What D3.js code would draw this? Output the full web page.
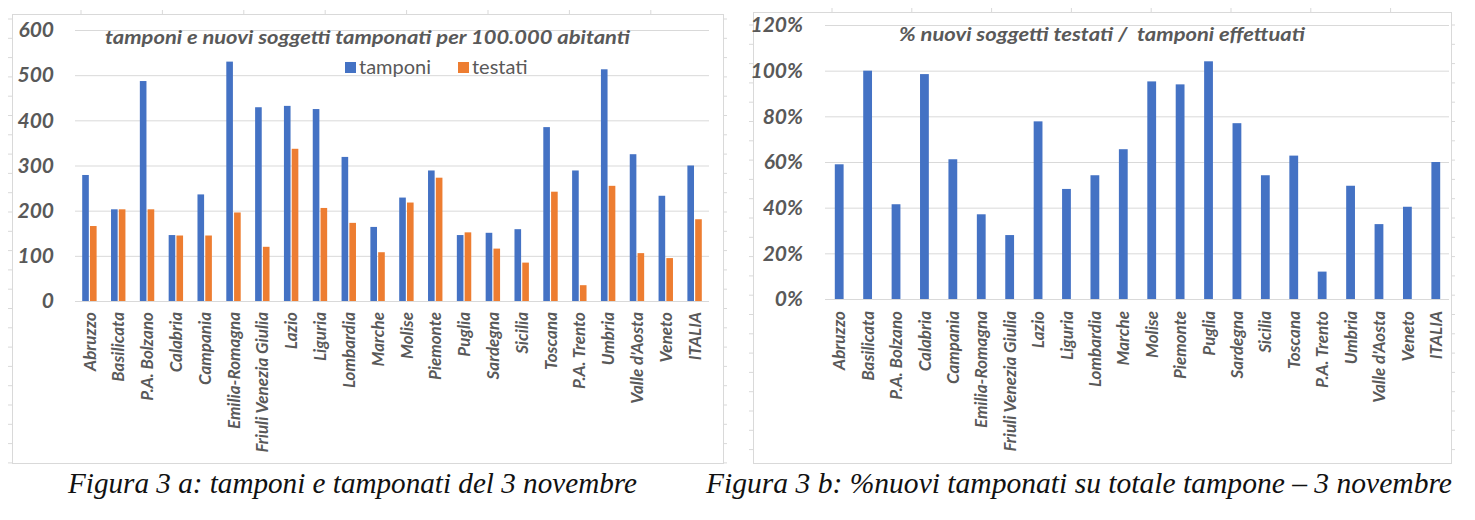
<!DOCTYPE html>
<html>
<head>
<meta charset="utf-8">
<script src="https://cdn.jsdelivr.net/npm/d3@7/dist/d3.min.js"></script>
<style>
  body { margin: 0; background: #fff; }
  text { fill: #595959; }
</style>
</head>
<body>
<svg id="chart" width="1475" height="520"></svg>
<script>
// data
var regioni = ["Abruzzo", "Basilicata", "P.A. Bolzano", "Calabria", "Campania", "Emilia-Romagna",
  "Friuli Venezia Giulia", "Lazio", "Liguria", "Lombardia", "Marche", "Molise", "Piemonte",
  "Puglia", "Sardegna", "Sicilia", "Toscana", "P.A. Trento", "Umbria", "Valle d'Aosta", "Veneto", "ITALIA"];
var tamponi = [279, 203, 487, 146, 236, 530, 429, 432, 425, 319, 164, 229, 289, 146, 151, 159, 385, 289, 513, 325, 233, 300];
var testati = [166, 203, 203, 145, 145, 196, 120, 337, 206, 173, 108, 218, 273, 152, 116, 85, 242, 35, 255, 106, 95, 181];
var percTestati = [0.59, 1.00, 0.415, 0.985, 0.612, 0.371, 0.28, 0.778, 0.482, 0.542, 0.656, 0.953, 0.94,
  1.041, 0.77, 0.542, 0.628, 0.12, 0.496, 0.328, 0.404, 0.60];
var serie = ["tamponi", "testati"];
var colori = ["#4472C4", "#ED7D31"];
var ticksA = [0, 100, 200, 300, 400, 500, 600];
var ticksB = [0, 0.2, 0.4, 0.6, 0.8, 1.0, 1.2];

var svg = d3.select("#chart");
var labelFont = "Lato, 'Open Sans', sans-serif";

// frames with the little ruler marks round them
function frame(x0, y0, x1, y1, topStep, topStart, sideStart) {
  var g = svg.append("g").attr("stroke", "#d9d9d9").attr("fill", "none");
  g.append("rect").attr("x", x0 + 0.5).attr("y", y0 + 0.5)
    .attr("width", x1 - x0).attr("height", y1 - y0);
  d3.range(topStart, x1, topStep).forEach(function (x) {
    g.append("line").attr("x1", x).attr("x2", x).attr("y1", y0 - 4).attr("y2", y0);
  });
  d3.range(sideStart, y1, 19.3).forEach(function (y) {
    g.append("line").attr("x1", x0 - 4).attr("x2", x0).attr("y1", y).attr("y2", y);
    g.append("line").attr("x1", x1).attr("x2", x1 + 4).attr("y1", y).attr("y2", y);
  });
}
frame(12, 14, 723, 463, 81.4, 81, 19);
frame(753, 12, 1451, 463, 79.8, 832, 25);

function boldItalic(sel, size) {
  sel.attr("font-family", labelFont).attr("font-weight", "bold").attr("font-style", "italic")
    .attr("font-size", size).attr("fill", "#595959");
}

// ---------- Figura 3a ----------
var xA = d3.scaleBand().domain(regioni).range([75, 709]).paddingInner(0.5).paddingOuter(0.25);
var xA1 = d3.scaleBand().domain(serie).range([0, xA.bandwidth()]).paddingInner(0.15);
var yA = d3.scaleLinear().domain([0, 600]).range([301, 30]);

var gA = svg.append("g");
gA.append("g").selectAll("line").data(ticksA).join("line")
  .attr("x1", 75).attr("x2", 709)
  .attr("y1", function (d) { return yA(d) + 0.5; }).attr("y2", function (d) { return yA(d) + 0.5; })
  .attr("stroke", "#d9d9d9").attr("stroke-width", 1);

var axA = d3.axisLeft(yA).tickValues(ticksA).tickSize(0).tickPadding(0);
gA.append("g").attr("transform", "translate(54,0)").call(axA)
  .call(function (g) { g.select(".domain").remove(); })
  .selectAll("text").call(boldItalic, 21);

var gruppi = gA.append("g").selectAll("g").data(regioni).join("g")
  .attr("transform", function (d) { return "translate(" + xA(d) + ",0)"; });
gruppi.selectAll("rect").data(function (d, i) {
  return [{ s: "tamponi", v: tamponi[i] }, { s: "testati", v: testati[i] }];
}).join("rect")
  .attr("x", function (d) { return xA1(d.s); })
  .attr("y", function (d) { return yA(d.v); })
  .attr("width", xA1.bandwidth())
  .attr("height", function (d) { return yA(0) - yA(d.v); })
  .attr("fill", function (d) { return colori[serie.indexOf(d.s)]; });

var axAx = d3.axisBottom(xA).tickSize(0).tickPadding(0);
gA.append("g").attr("transform", "translate(0,312)").call(axAx)
  .call(function (g) { g.select(".domain").remove(); })
  .selectAll("text")
  .attr("transform", "rotate(-90)")
  .attr("text-anchor", "end").attr("x", 0).attr("y", 0).attr("dy", "0.36em")
  .call(boldItalic, 17);

gA.append("text").attr("x", 105).attr("y", 44)
  .call(boldItalic, 19).attr("textLength", 525).attr("lengthAdjust", "spacingAndGlyphs")
  .text("tamponi e nuovi soggetti tamponati per 100.000 abitanti");

var leg = gA.append("g").selectAll("g").data(serie).join("g")
  .attr("transform", function (d, i) { return "translate(" + [345, 458][i] + ",62)"; });
leg.append("rect").attr("width", 11).attr("height", 11)
  .attr("fill", function (d, i) { return colori[i]; });
leg.append("text").attr("x", 14).attr("y", 12)
  .attr("font-family", labelFont).attr("font-size", 20).text(function (d) { return d; });

// ---------- Figura 3b ----------
var xB = d3.scaleBand().domain(regioni).range([825, 1450]).paddingInner(0.69).paddingOuter(0.345);
var yB = d3.scaleLinear().domain([0, 1.2]).range([299, 25]);

var gB = svg.append("g");
gB.append("g").selectAll("line").data(ticksB).join("line")
  .attr("x1", 825).attr("x2", 1449)
  .attr("y1", function (d) { return yB(d) + 0.5; }).attr("y2", function (d) { return yB(d) + 0.5; })
  .attr("stroke", "#d9d9d9").attr("stroke-width", 1);

var axB = d3.axisLeft(yB).tickValues(ticksB).tickSize(0).tickPadding(0).tickFormat(d3.format(".0%"));
gB.append("g").attr("transform", "translate(803,0)").call(axB)
  .call(function (g) { g.select(".domain").remove(); })
  .selectAll("text").call(boldItalic, 21);

gB.append("g").selectAll("rect").data(regioni).join("rect")
  .attr("x", function (d) { return xB(d); })
  .attr("y", function (d, i) { return yB(percTestati[i]); })
  .attr("width", xB.bandwidth())
  .attr("height", function (d, i) { return yB(0) - yB(percTestati[i]); })
  .attr("fill", colori[0]);

var axBx = d3.axisBottom(xB).tickSize(0).tickPadding(0);
gB.append("g").attr("transform", "translate(0,311)").call(axBx)
  .call(function (g) { g.select(".domain").remove(); })
  .selectAll("text")
  .attr("transform", "rotate(-90)")
  .attr("text-anchor", "end").attr("x", 0).attr("y", 0).attr("dy", "0.36em")
  .call(boldItalic, 17);

gB.append("text").attr("x", 899).attr("y", 41)
  .call(boldItalic, 19).attr("textLength", 406).attr("lengthAdjust", "spacingAndGlyphs")
  .attr("xml:space", "preserve")
  .text("% nuovi soggetti testati /  tamponi effettuati");

// captions under the two figures
var capFont = "'Liberation Serif', 'DejaVu Serif', serif";
svg.append("text").attr("x", 68).attr("y", 493)
  .attr("font-family", capFont).attr("font-style", "italic").attr("font-size", 30)
  .attr("textLength", 569).attr("lengthAdjust", "spacingAndGlyphs")
  .style("fill", "#111")
  .text("Figura 3 a: tamponi e tamponati del 3 novembre");
svg.append("text").attr("x", 706).attr("y", 493)
  .attr("font-family", capFont).attr("font-style", "italic").attr("font-size", 30)
  .attr("textLength", 746).attr("lengthAdjust", "spacingAndGlyphs")
  .style("fill", "#111")
  .text("Figura 3 b: %nuovi tamponati su totale tampone \u2013 3 novembre");
</script>
</body>
</html>
